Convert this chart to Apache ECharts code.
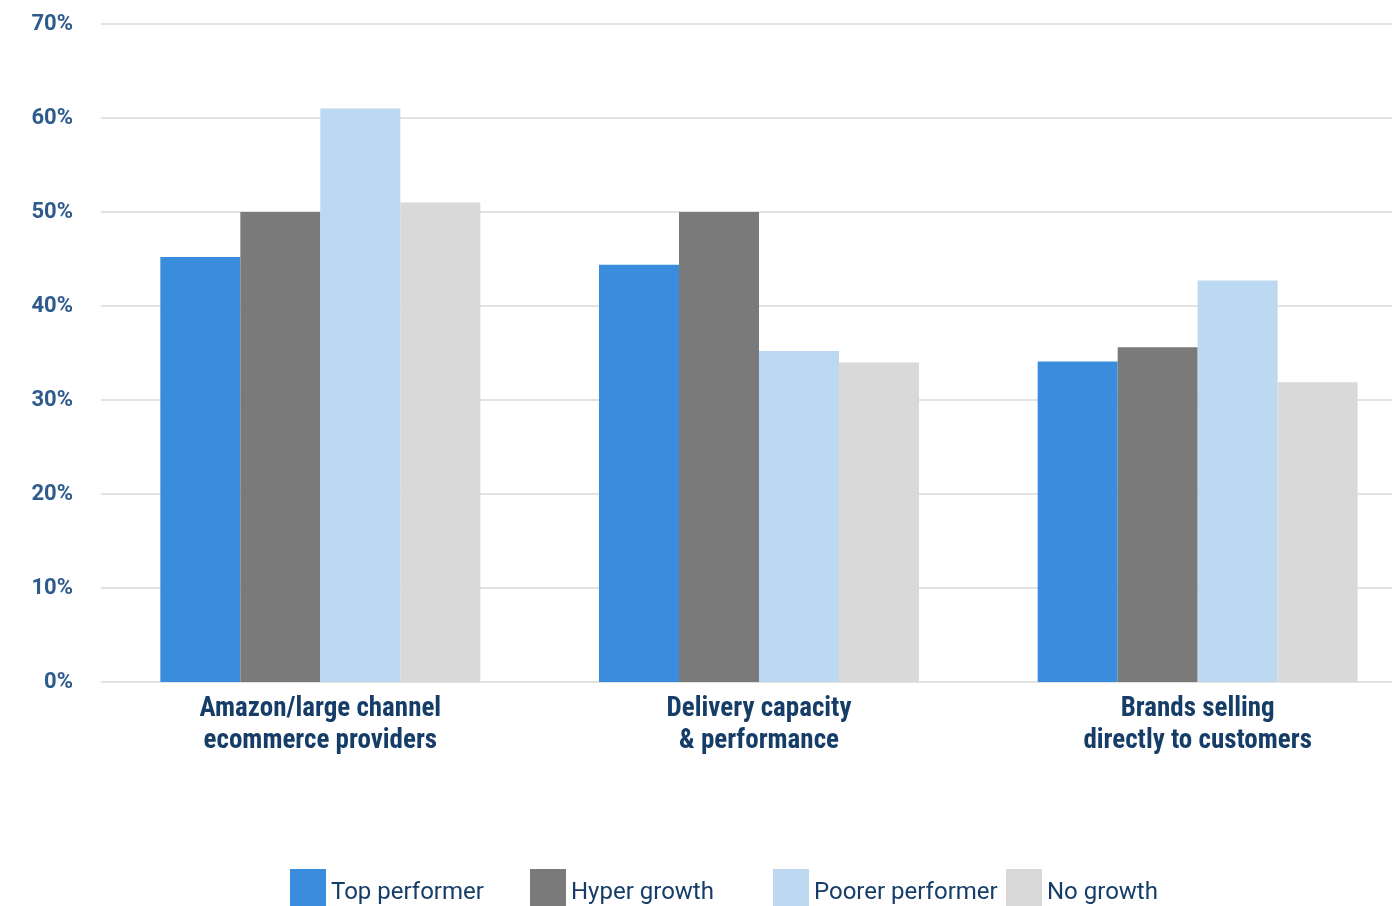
<!DOCTYPE html>
<html>
<head>
<meta charset="utf-8">
<script src="https://cdn.jsdelivr.net/npm/echarts@6/dist/echarts.min.js"></script>
<style>
  html, body { margin: 0; padding: 0; background: #ffffff; overflow: hidden; }
  #chart { width: 1440px; height: 906px; }
</style>
</head>
<body>
<div id="chart"></div>
<script>
// Categories and values (percent of respondents)
const categories = [
  'Amazon/large channel\necommerce providers',
  'Delivery capacity\n& performance',
  'Brands selling\ndirectly to customers'
];
const seriesNames = ['Top performer', 'Hyper growth', 'Poorer performer', 'No growth'];
const topPerformer = [45.2, 44.4, 34.1];
const hyperGrowth = [50.0, 50.0, 35.6];
const poorerPerformer = [61.0, 35.2, 42.7];
const noGrowth = [51.0, 34.0, 31.9];
const yTicks = { min: 0, max: 70, interval: 10 };

const colors = ['#3a8ddc', '#7a7a7a', '#bdd9f2', '#d9d9d9'];
const navy = '#163d68';
const condensed = '"Roboto Condensed", "Liberation Sans Narrow", "DejaVu Sans Condensed", Roboto, sans-serif';

const valueSets = [topPerformer, hyperGrowth, poorerPerformer, noGrowth];
const legendLefts = [290, 530, 773, 1006];

const chart = echarts.init(document.getElementById('chart'), null, { renderer: 'canvas' });
chart.setOption({
  backgroundColor: '#ffffff',
  animation: false,
  color: colors,
  // plot area runs a little past the right edge of the visible page
  grid: { left: 101, top: 24, width: 1316, height: 658, containLabel: false },
  legend: seriesNames.map((name, i) => ({
    data: [name],
    left: legendLefts[i],
    top: 869,
    padding: 0,
    icon: 'rect',
    itemWidth: 36,
    itemHeight: 37,
    itemGap: 6,
    formatter: '{t|{name}}',
    textStyle: {
      color: navy,
      fontSize: 24,
      fontFamily: 'Roboto, sans-serif',
      rich: { t: { color: navy, fontSize: 24, fontFamily: 'Roboto, sans-serif', padding: [11, 0, 0, 0] } }
    }
  })),
  xAxis: {
    type: 'category',
    data: categories,
    axisLine: { show: false },
    axisTick: { show: false },
    axisLabel: {
      interval: 0,
      margin: 11,
      color: navy,
      fontSize: 27,
      fontWeight: 'bold',
      fontFamily: condensed,
      lineHeight: 32
    }
  },
  yAxis: {
    type: 'value',
    min: yTicks.min,
    max: yTicks.max,
    interval: yTicks.interval,
    axisLine: { show: false },
    axisTick: { show: false },
    splitLine: { lineStyle: { color: '#e2e2e2', width: 2 } },
    axisLabel: {
      formatter: '{value}%',
      margin: 28,
      color: '#2e5a8c',
      fontSize: 22,
      fontWeight: 'bold',
      fontFamily: 'Roboto, sans-serif'
    }
  },
  series: seriesNames.map((name, i) => ({
    name: name,
    type: 'bar',
    data: valueSets[i],
    barWidth: 80,
    barGap: '0%',
    barCategoryGap: '27%',
    itemStyle: { color: colors[i] }
  }))
});
</script>
</body>
</html>
